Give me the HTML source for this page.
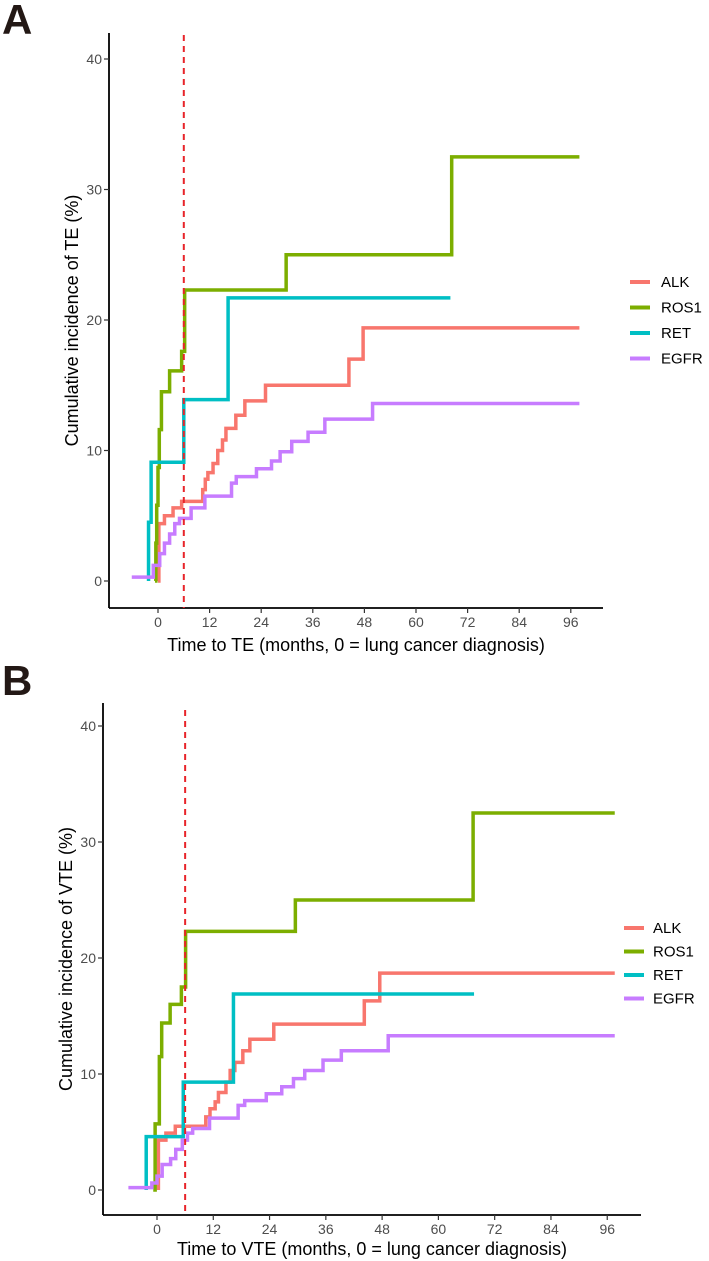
<!DOCTYPE html>
<html><head><meta charset="utf-8"><style>
html,body{margin:0;padding:0;background:#fff}
svg{display:block;font-family:"Liberation Sans",Arial,sans-serif}
</style></head><body>
<svg id="chart" width="709" height="1261" viewBox="0 0 709 1261"></svg>
<script>
const seriesNames=["ALK","ROS1","RET","EGFR"];
const seriesColors=["#F8766D","#7CAE00","#00BFC4","#C77CFF"];
const xTicks=[0,12,24,36,48,60,72,84,96];
const yTicks=[0,10,20,30,40];
const cutoffMonth=6;
// Panel A (TE)
const A_ALK_t=[0,0.2,1.5,3.5,5.5,10.4,11.0,11.6,12.8,13.9,15,15.8,18.1,20.2,25,44.4,47.7,98];
const A_ALK_v=[0,4.4,5.0,5.6,6.1,7.0,7.8,8.3,9.0,10.0,10.8,11.7,12.7,13.8,15.0,17.0,19.4,19.4];
const A_ROS1_t=[-0.7,-0.5,-0.3,0,0.3,0.8,2.7,5.5,6.2,29.8,68.3,98];
const A_ROS1_v=[0,2.9,5.8,8.7,11.6,14.5,16.1,17.6,22.3,25.0,32.5,32.5];
const A_RET_t=[-2.2,-2.2,-1.6,6,16.3,68];
const A_RET_v=[0,4.5,9.1,13.9,21.7,21.7];
const A_EGFR_t=[-6.1,-1.1,0.4,1.5,2.7,3.9,5,7.7,10.9,17.1,18.2,22.9,26.4,28.4,31.1,34.9,38.8,49.9,98];
const A_EGFR_v=[0.3,1.2,2.1,2.9,3.6,4.4,4.8,5.6,6.5,7.5,8.0,8.6,9.2,9.9,10.7,11.4,12.4,13.6,13.6];
// Panel B (VTE)
const B_ALK_t=[0.3,0.3,1.9,3.9,10.4,11.3,12.4,13.1,14.7,15.6,16.6,18.3,19.8,24.9,44.2,47.5,97.6];
const B_ALK_v=[0,4.3,4.9,5.5,6.3,7.0,7.6,8.4,9.3,10.3,11.0,12.0,13.0,14.3,16.3,18.7,18.7];
const B_ROS1_t=[-0.8,-0.4,0.5,1.0,2.8,5.2,6.1,29.5,67.4,97.6];
const B_ROS1_v=[0,5.7,11.5,14.4,16.0,17.5,22.3,25.0,32.5,32.5];
const B_RET_t=[-2.3,-2.3,5.6,16.3,67.6];
const B_RET_v=[0,4.6,9.3,16.9,16.9];
const B_EGFR_t=[-6.1,-1.1,0,1.1,2.9,4.0,5.4,6.5,7.6,11.2,17.3,18.7,23.3,26.6,29.1,31.5,35.4,39.3,49.3,97.6];
const B_EGFR_v=[0.2,0.6,1.2,2.2,2.7,3.5,4.3,4.9,5.3,6.2,7.3,7.7,8.3,8.9,9.6,10.3,11.2,12.0,13.3,13.3];

const NS="http://www.w3.org/2000/svg";
const svg=document.getElementById('chart');
function mk(tag,attrs,parent){const e=document.createElementNS(NS,tag);for(const k in attrs)e.setAttribute(k,attrs[k]);(parent||svg).appendChild(e);return e;}

function panel(cfg){
  const g=mk('g',{});
  
  
  const x=t=>cfg.x0+t*cfg.xs;
  const y=v=>cfg.y0-v*cfg.ys;
  const L=mk('text',{x:cfg.letterX,y:cfg.letterY,'font-size':42,'font-weight':'bold',fill:'#231815'},g);
  L.textContent=cfg.letter;
  
  
  const ya=mk('line',{x1:cfg.axL,x2:cfg.axL,y1:cfg.axT,y2:cfg.axB,stroke:'#000','stroke-width':1.8},g);
  
  
  const xa=mk('line',{x1:cfg.axL,x2:cfg.axR,y1:cfg.axB,y2:cfg.axB,stroke:'#000','stroke-width':1.8},g);
  
  
  yTicks.forEach(v=>{
    mk('line',{x1:cfg.axL-5,x2:cfg.axL,y1:y(v),y2:y(v),stroke:'#333','stroke-width':1.2},g);
    const t=mk('text',{x:cfg.axL-7,y:y(v)+5,'text-anchor':'end','font-size':14,fill:'#4d4d4d'},g);
    t.textContent=v;
    
    
  });
  xTicks.forEach(v=>{
    mk('line',{x1:x(v),x2:x(v),y1:cfg.axB,y2:cfg.axB+5,stroke:'#333','stroke-width':1.2},g);
    const t=mk('text',{x:x(v),y:cfg.axB+19,'text-anchor':'middle','font-size':14,fill:'#4d4d4d'},g);
    t.textContent=v;
    
    
  });
  const xt=mk('text',{x:(cfg.axL+cfg.axR)/2,y:cfg.xTitleY,'text-anchor':'middle','font-size':18,fill:'#000'},g);
  xt.textContent=cfg.xTitle;
  
  
  const yc=(cfg.axT+cfg.axB)/2;
  const yt=mk('text',{x:cfg.yTitleX,y:yc,'text-anchor':'middle','font-size':18,fill:'#000',transform:`rotate(-90 ${cfg.yTitleX} ${yc})`},g);
  yt.textContent=cfg.yTitle;
  
  
  cfg.series.forEach((s,i)=>{
    const [ts,vs]=s;
    let d=`M${x(ts[0])},${y(vs[0])}`;
    for(let k=1;k<ts.length;k++){d+=` H${x(ts[k])} V${y(vs[k])}`;}
    const p=mk('path',{d:d,fill:'none',stroke:seriesColors[i],'stroke-width':3.5,'stroke-linejoin':'miter'},g);
    
    
  });
  const dl=mk('line',{x1:x(cutoffMonth),x2:x(cutoffMonth),y1:cfg.dashTop,y2:cfg.axB,stroke:'#E8242A','stroke-width':2,'stroke-dasharray':'6,5'},g);
  
  
  seriesNames.forEach((n,i)=>{
    const ly=cfg.legY+i*cfg.legSp;
    const eg=mk('g',{},g);
    
    
    mk('line',{x1:cfg.legX,x2:cfg.legX+20,y1:ly,y2:ly,stroke:seriesColors[i],'stroke-width':4},eg);
    const t=mk('text',{x:cfg.legX+cfg.legTx,y:ly+5,'font-size':15,fill:'#000'},eg);
    t.textContent=n;
  });
}

panel({id:'te',letter:'A',letterX:2,letterY:34,x0:158,xs:4.3,y0:581,ys:13.05,axL:109,axR:603,axT:33,axB:608,
  dashTop:35,xTitle:'Time to TE (months, 0 = lung cancer diagnosis)',xTitleY:651,yTitle:'Cumulative incidence of TE (%)',yTitleX:78,
  legX:630,legTx:31,legY:282,legSp:25.5,
  series:[[A_ALK_t,A_ALK_v],[A_ROS1_t,A_ROS1_v],[A_RET_t,A_RET_v],[A_EGFR_t,A_EGFR_v]]});
panel({id:'vte',letter:'B',letterX:2,letterY:695,x0:157,xs:4.69,y0:1190,ys:11.6,axL:103,axR:641,axT:703,axB:1215,
  dashTop:710,xTitle:'Time to VTE (months, 0 = lung cancer diagnosis)',xTitleY:1255,yTitle:'Cumulative incidence of VTE (%)',yTitleX:72,
  legX:624,legTx:29,legY:928,legSp:23.5,
  series:[[B_ALK_t,B_ALK_v],[B_ROS1_t,B_ROS1_v],[B_RET_t,B_RET_v],[B_EGFR_t,B_EGFR_v]]});
</script>
</body></html>
